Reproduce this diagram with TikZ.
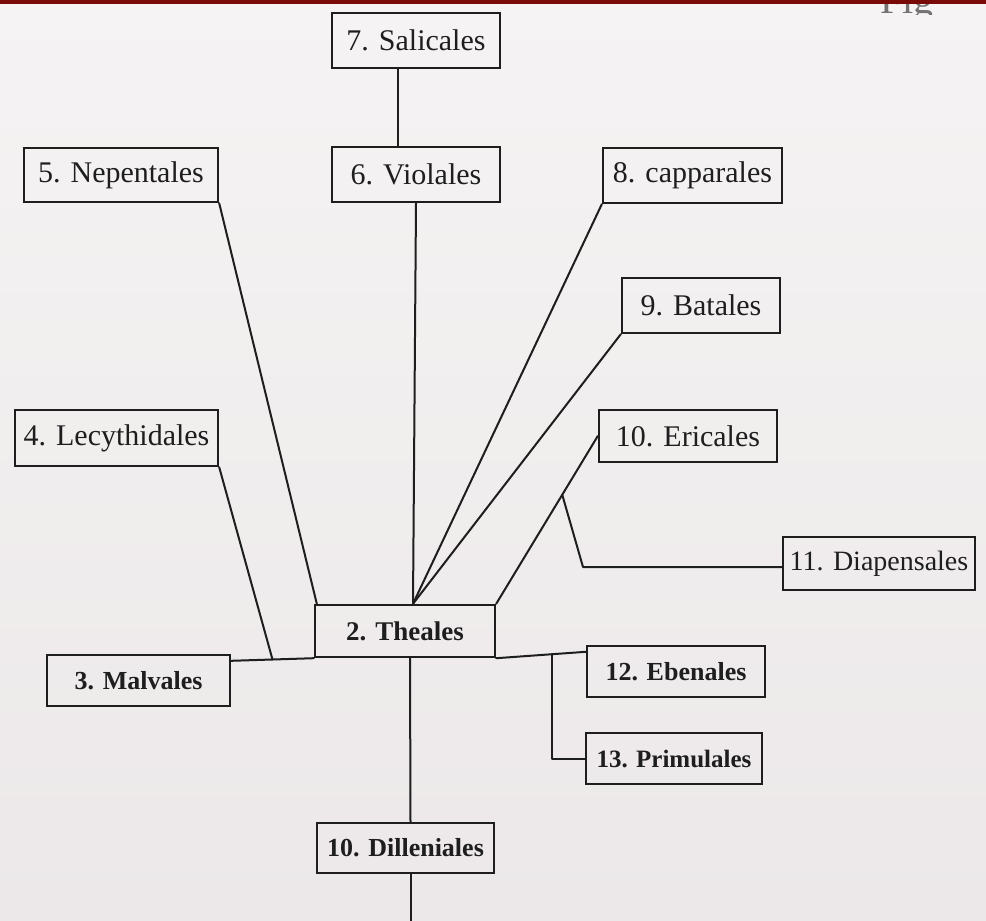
\documentclass[tikz,border=0pt]{standalone}
\usepackage{fontspec}
\setmainfont{Liberation Serif}
\usetikzlibrary{calc}
\definecolor{ink}{HTML}{1E1E1E}
\definecolor{paper}{HTML}{F5F3F3}
\definecolor{paperlow}{HTML}{ECE8E9}
\definecolor{barred}{HTML}{7A0A0A}
\begin{document}
\begin{tikzpicture}[x=1pt,y=-1pt,
  box/.style={draw=ink,line width=2.4pt,rectangle,inner sep=0pt,text=ink,font=\fontsize{30}{36}\selectfont},
  bbox/.style={box,font=\fontsize{26}{30}\selectfont\bfseries},
  conn/.style={draw=ink,line width=2pt,line cap=round,line join=round}]
\useasboundingbox (0,0) rectangle (986,921);
\shade[top color=paper,bottom color=paperlow] (0,0) rectangle (986,921);
\fill[barred] (0,0) rectangle (986,4);
\begin{scope}
\clip (0,4) rectangle (986,14);
\node[text=black!55,font=\fontsize{40}{48}\selectfont,anchor=base west,inner sep=0pt] (fig) at (880,13) {Fig};
\end{scope}

% boxes
\node[box,minimum width=168pt,minimum height=55pt] (sal) at (416,40.5) {7. Salicales};
\node[box,minimum width=168pt,minimum height=55pt] (vio) at (416,174.5) {6. Violales};
\node[box,minimum width=194pt,minimum height=54pt] (nep) at (121,175) {5. Nepentales};
\node[box,minimum width=179pt,minimum height=55pt] (cap) at (692.5,175.5) {8. capparales};
\node[box,minimum width=158pt,minimum height=55pt] (bat) at (701,305.5) {9. Batales};
\node[box,minimum width=203pt,minimum height=56pt] (lec) at (116.5,438) {4. Lecythidales};
\node[box,minimum width=178pt,minimum height=52pt] (eri) at (688,436) {10. Ericales};
\node[box,minimum width=192pt,minimum height=53pt,font=\fontsize{28}{34}\selectfont] (dia) at (879,563.5) {11. Diapensales};
\node[bbox,minimum width=180pt,minimum height=52pt,font=\fontsize{27}{32}\selectfont\bfseries] (the) at (405,631) {2. Theales};
\node[bbox,minimum width=183pt,minimum height=51pt] (mal) at (138.5,680.5) {3. Malvales};
\node[bbox,minimum width=178pt,minimum height=51pt] (ebe) at (676,671.5) {12. Ebenales};
\node[bbox,minimum width=176pt,minimum height=51pt,font=\fontsize{25}{30}\selectfont\bfseries] (pri) at (674,758.5) {13. Primulales};
\node[bbox,minimum width=177pt,minimum height=50pt] (dil) at (405.5,848) {10. Dilleniales};

% helper coordinates
\coordinate (conv) at ([xshift=8pt]the.north);
\coordinate (h1) at ([yshift=-7pt]mal.north east);
\coordinate (h2) at ([yshift=-7pt]ebe.north west);
\coordinate (lj) at ($(h1)!0.5!(the.south west)$);
\coordinate (b1) at ($(eri.west)!0.35!(the.north east)$);
\coordinate (k2) at (583,567);
\coordinate (b2) at ($(the.south east)!0.62!(h2)$);
\coordinate (bot) at (410.5,921);

% connectors
\draw[conn] ([xshift=-18pt]sal.south) -- ([xshift=-18pt]vio.north);
\draw[conn] (vio.south) -- (conv);
\draw[conn] (nep.south east) -- ([xshift=3pt]the.north west);
\draw[conn] (cap.south west) -- (conv);
\draw[conn] (bat.south west) -- (conv);
\draw[conn] (eri.west) -- (the.north east);
\draw[conn] (b1) -- (k2) -- (k2 -| dia.west);
\draw[conn] (h1) -- (the.south west);
\draw[conn] (lec.south east) -- (lj);
\draw[conn] (the.south east) -- (h2);
\draw[conn] (b2) |- (pri.west);
\draw[conn] ([xshift=5pt]the.south) -- ([xshift=5pt]dil.north);
\draw[conn] ([xshift=5pt]dil.south) -- (bot);
\end{tikzpicture}
\end{document}
